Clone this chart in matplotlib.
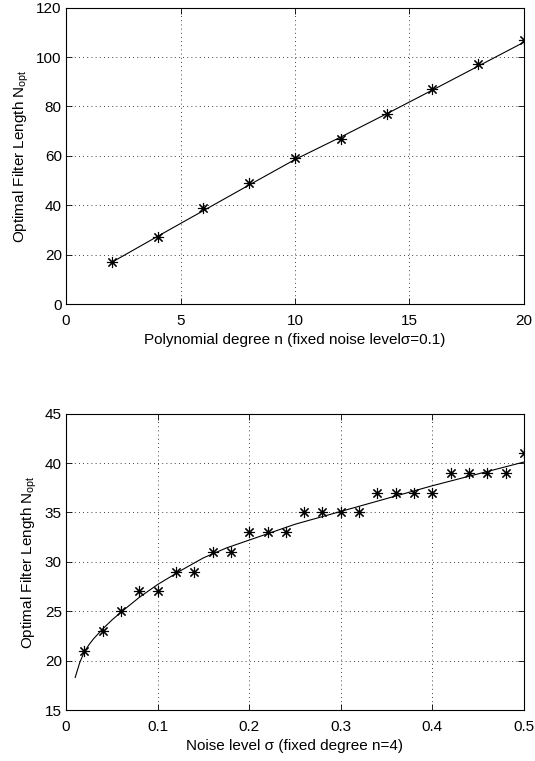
import numpy as np
import matplotlib
matplotlib.use("Agg")
import matplotlib.pyplot as plt

# ── data ────────────────────────────────────────────────────────────
degree_n = [2, 4, 6, 8, 10, 12, 14, 16, 18, 20]
nopt_vs_degree = [17, 27, 39, 49, 59, 67, 77, 87, 97, 107]
fit_degree_n = [2, 4, 6, 8, 10, 12, 14, 16, 18, 20]
fit_nopt_degree = [16.9, 27.4, 37.8, 48.2, 58.5, 67.6, 77.0, 86.6, 96.3, 106.0]

sigma = [0.02, 0.04, 0.06, 0.08, 0.10, 0.12, 0.14, 0.16, 0.18, 0.20,
         0.22, 0.24, 0.26, 0.28, 0.30, 0.32, 0.34, 0.36, 0.38, 0.40,
         0.42, 0.44, 0.46, 0.48, 0.50]
nopt_vs_sigma = [21, 23, 25, 27, 27, 29, 29, 31, 31, 33,
                 33, 33, 35, 35, 35, 35, 37, 37, 37, 37,
                 39, 39, 39, 39, 41]
fit_sigma = [0.010, 0.015, 0.020, 0.025, 0.030, 0.040, 0.050, 0.060, 0.080,
             0.100, 0.125, 0.150, 0.175, 0.200, 0.250, 0.300, 0.350, 0.400,
             0.450, 0.500]
fit_nopt_sigma = [18.3, 19.8, 20.9, 21.6, 22.2, 23.2, 24.1, 24.9, 26.4,
                  27.7, 29.1, 30.4, 31.4, 32.2, 33.8, 35.1, 36.4, 37.7,
                  38.9, 40.1]

plt.rcParams["font.family"] = ["Liberation Sans", "DejaVu Sans"]
plt.rcParams["mathtext.fontset"] = "custom"
plt.rcParams["mathtext.rm"] = "Liberation Sans"
plt.rcParams["mathtext.it"] = "Liberation Sans"
plt.rcParams["font.size"] = 11

fig = plt.figure(figsize=(5.35, 7.61), dpi=100)
ax1 = fig.add_axes([0.1234, 0.6005, 0.856, 0.3895])
ax2 = fig.add_axes([0.1234, 0.067, 0.856, 0.3895])

ylabel = r"Optimal Filter Length N$_{\mathrm{opt}}$"
marker = dict(marker=(8, 2, 0), markersize=8, markeredgewidth=0.8,
              color="k", linestyle="none")


def style(ax):
    ax.grid(True, color="k", linestyle=(0, (1, 4)), linewidth=0.6)
    ax.tick_params(direction="in", top=True, right=True, length=4,
                   width=0.6, labelsize=11)
    ax.tick_params(axis="x", pad=7)
    ax.tick_params(axis="y", pad=3)
    for s in ax.spines.values():
        s.set_linewidth(0.8)


ax1.plot(fit_degree_n, fit_nopt_degree, color="k", linewidth=0.8)
ax1.plot(degree_n, nopt_vs_degree, **marker)
ax1.set_xlim(0, 20)
ax1.set_ylim(0, 120)
ax1.set_xticks([0, 5, 10, 15, 20])
ax1.set_yticks(np.arange(0, 121, 20))
ax1.set_xlabel("Polynomial degree n (fixed noise level\u03c3=0.1)", labelpad=4)
ax1.set_ylabel(ylabel, labelpad=4)
style(ax1)

ax2.plot(fit_sigma, fit_nopt_sigma, color="k", linewidth=0.8)
ax2.plot(sigma, nopt_vs_sigma, **marker)
ax2.set_xlim(0, 0.5)
ax2.set_ylim(15, 45)
ax2.set_xticks([0, 0.1, 0.2, 0.3, 0.4, 0.5])
ax2.set_xticklabels(["0", "0.1", "0.2", "0.3", "0.4", "0.5"])
ax2.set_yticks(np.arange(15, 46, 5))
ax2.set_xlabel("Noise level \u03c3 (fixed degree n=4)", labelpad=4)
ax2.set_ylabel(ylabel, labelpad=4)
style(ax2)

fig.savefig("out.png", dpi=100)
